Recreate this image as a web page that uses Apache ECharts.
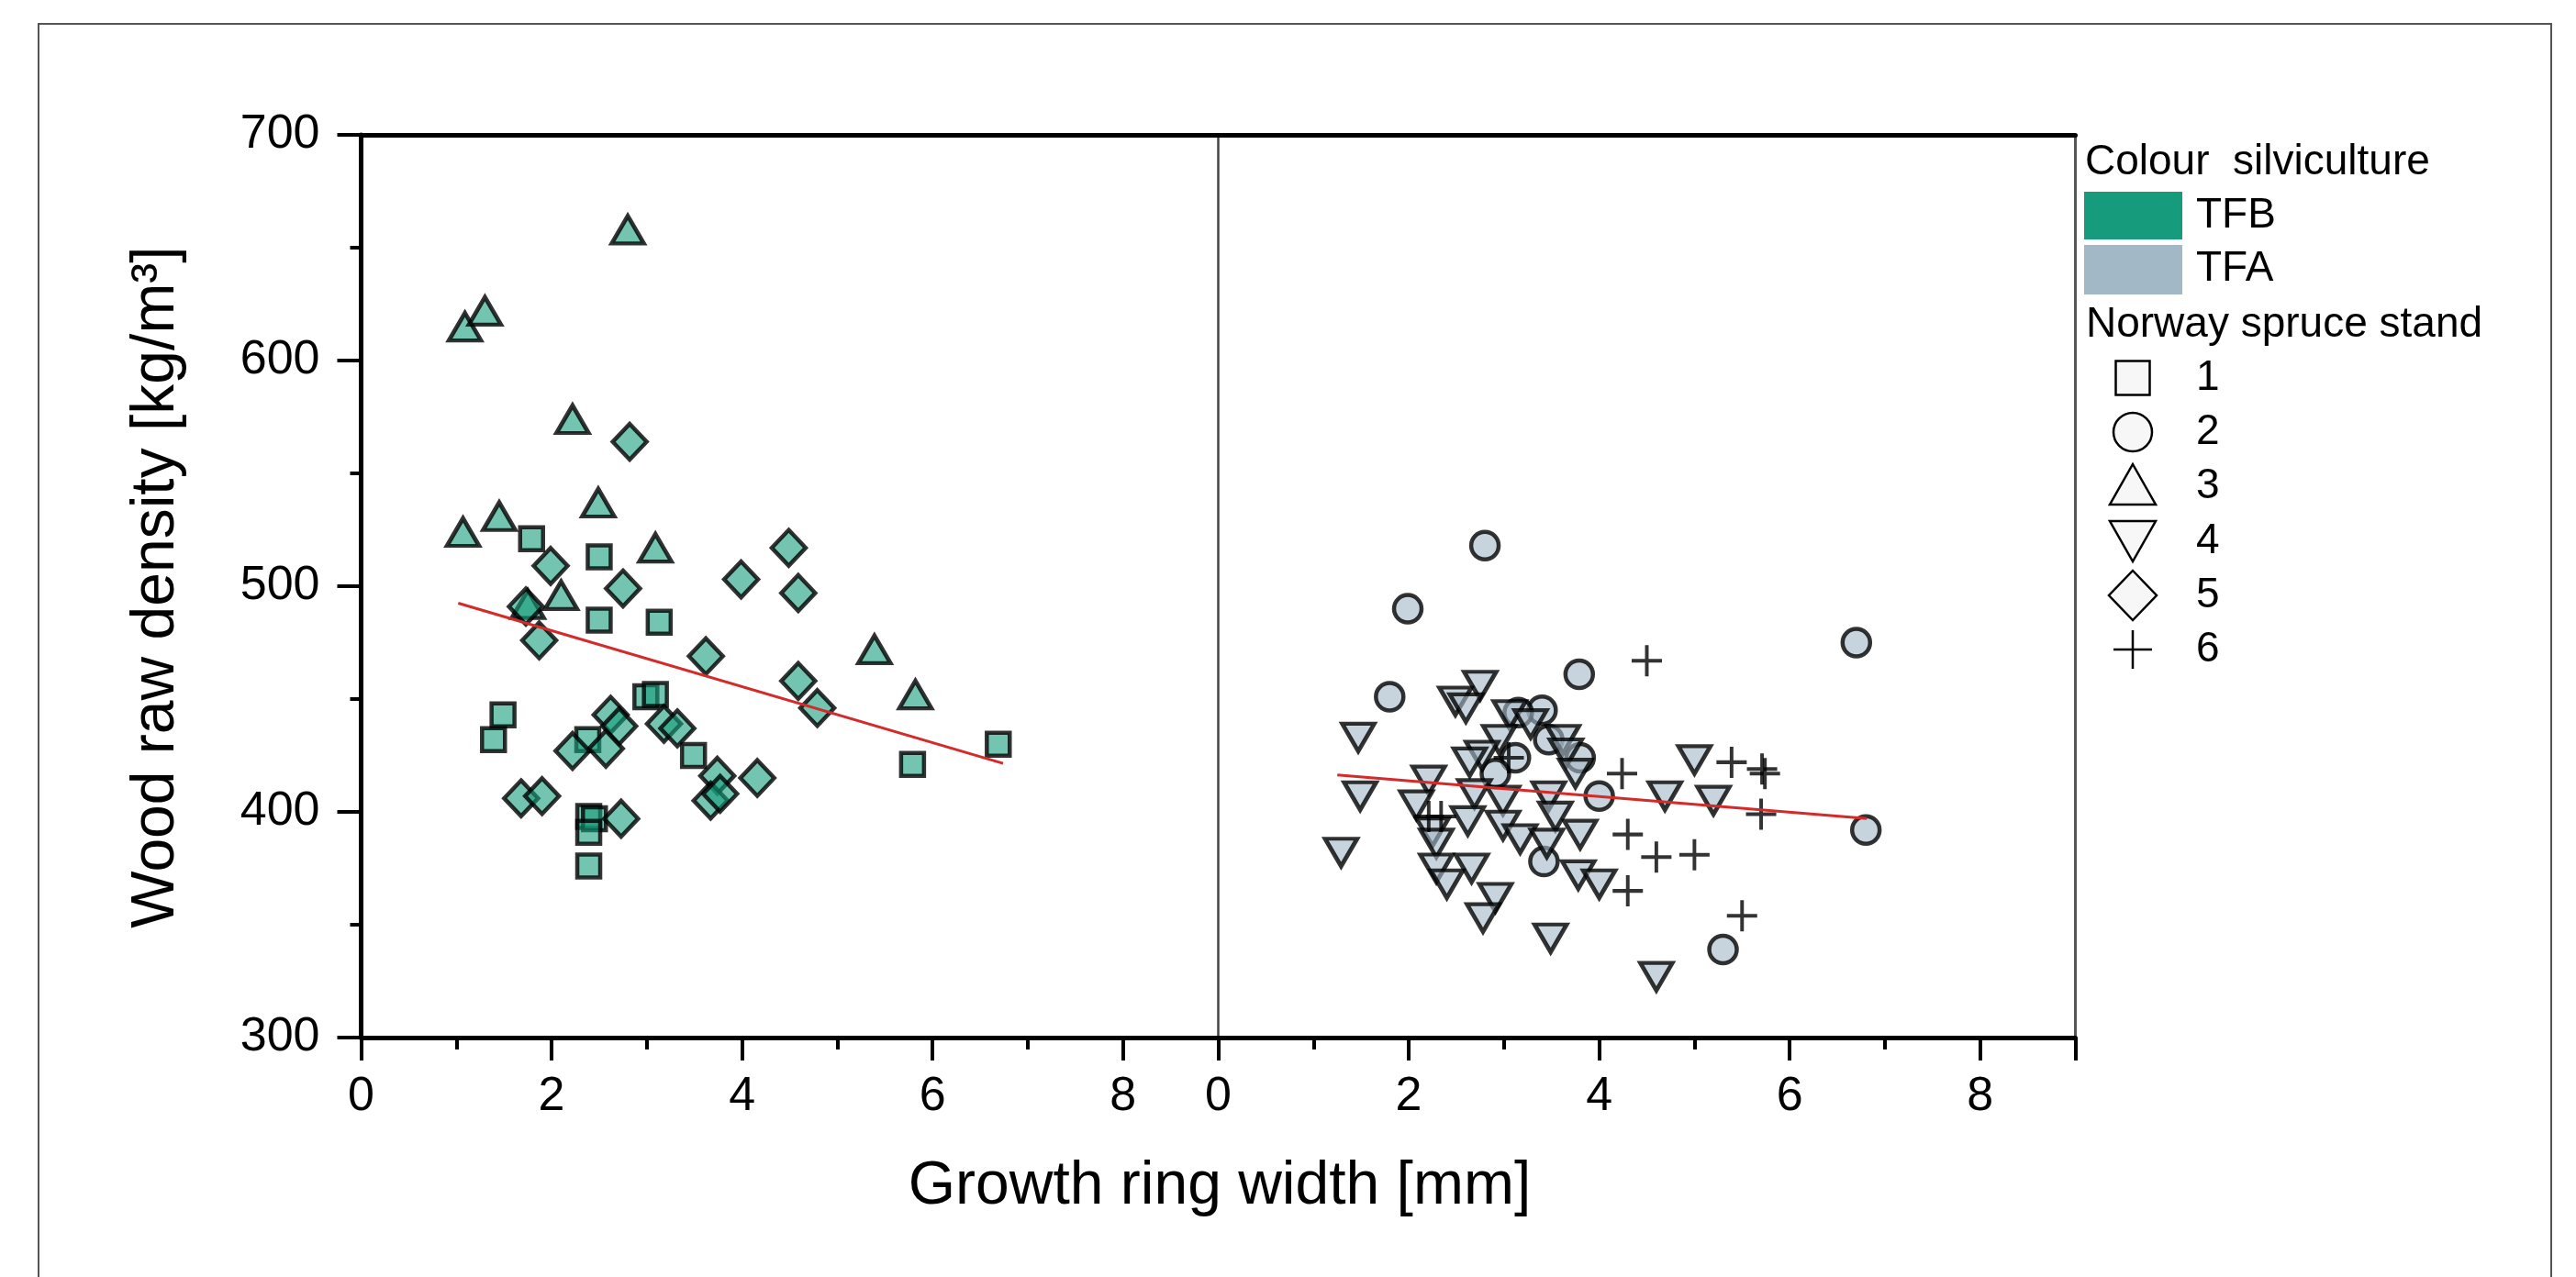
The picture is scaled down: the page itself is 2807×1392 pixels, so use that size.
<!DOCTYPE html>
<html>
<head>
<meta charset="utf-8">
<title>Wood raw density vs growth ring width</title>
<script src="https://cdn.jsdelivr.net/npm/echarts@6.0.0/dist/echarts.min.js"></script>
<style>
  html, body { margin: 0; padding: 0; background: #fff; }
  #chart { width: 2807px; height: 1392px; }
</style>
</head>
<body>
<div id="chart"></div>
<script>
// growth ring width [mm], wood raw density [kg/m3]
// TFB silviculture (left panel)
const stand1TFB = [
  [1.79, 521], [2.50, 513], [2.50, 485], [3.13, 484], [2.99, 451], [3.09, 452],
  [1.49, 443], [1.39, 432], [2.38, 432], [3.49, 425], [6.69, 430], [5.79, 421],
  [2.39, 398], [2.45, 397], [2.39, 391], [2.39, 376]
]
const stand3TFB = [
  [2.80, 658], [1.09, 615], [1.30, 622], [2.22, 574], [2.49, 537], [1.07, 524],
  [1.45, 531], [3.09, 517], [2.10, 496], [1.75, 492], [5.39, 472], [5.82, 452]
]
const stand5TFB = [
  [2.82, 564], [4.49, 517], [1.99, 509], [2.75, 499], [3.99, 503], [4.59, 497],
  [1.73, 491], [1.87, 476], [3.62, 469], [4.59, 458], [4.79, 446], [2.62, 443],
  [2.71, 438], [2.57, 428], [2.22, 427], [3.18, 439], [3.32, 437], [3.74, 416],
  [3.67, 405], [3.77, 408], [4.16, 415], [1.68, 406], [1.90, 407], [2.73, 397]
]
// TFA silviculture (right panel)
const stand2TFA = [
  [2.80, 518], [1.99, 490], [1.80, 451], [3.79, 461], [3.40, 445], [3.15, 444],
  [3.47, 432], [3.80, 424], [3.12, 424], [2.91, 417], [4.00, 407], [3.42, 378],
  [5.30, 339], [6.70, 475], [6.80, 392]
]
const stand4TFA = [
  [2.75, 456], [2.49, 449], [2.60, 446], [1.47, 433], [3.06, 443], [3.28, 439],
  [3.62, 432], [2.95, 432], [2.77, 425], [3.65, 426], [2.64, 422], [2.21, 414],
  [3.75, 417], [1.49, 407], [2.69, 408], [2.99, 405], [3.47, 407], [2.08, 403],
  [4.69, 407], [5.20, 405], [5.00, 423], [2.62, 396], [2.99, 394], [3.54, 398],
  [3.80, 390], [2.25, 391], [3.17, 388], [3.45, 386], [2.29, 386], [1.29, 382],
  [2.29, 375], [2.66, 375], [2.40, 368], [3.78, 372], [4.00, 368], [2.91, 362],
  [2.78, 353], [3.49, 344], [4.60, 327]
]
const stand6TFA = [
  [4.50, 467], [4.24, 417], [5.39, 422], [5.71, 419], [5.74, 417], [5.70, 399],
  [4.30, 390], [4.60, 380], [5.00, 381], [4.30, 365], [5.50, 354], [2.21, 398],
  [2.34, 398], [3.05, 424]
]
// linear fits
const fitTFB = [[1.02, 492.5], [6.74, 421.5]]
const fitTFA = [[1.25, 416.4], [6.81, 397.1]]

const xTicks = [0, 2, 4, 6, 8]
const xMax = 9
const yTicks = [300, 400, 500, 600, 700]
const silvicultureLabels = ['TFB', 'TFA']
const standLabels = ['1', '2', '3', '4', '5', '6']

const FONT = 'Liberation Sans, Arial, Helvetica, sans-serif'
const TFB_COLOR = '#169c7c'
const TFA_COLOR = '#a3b8c6'
const TFB_FILL = 'rgba(22,156,124,0.75)'
const TFA_FILL = 'rgba(163,184,198,0.75)'
const CROSS = 'path://M0,10 L20,10 M10,0 L10,20'

const chart = echarts.init(document.getElementById('chart'), null, { renderer: 'canvas' })

const mainX = (gridIndex) => ({
  type: 'value', gridIndex, position: 'bottom',
  min: xTicks[0], max: xMax, interval: xTicks[1] - xTicks[0],
  axisLine: { show: true, onZero: false, lineStyle: { color: '#000', width: 5 } },
  axisTick: { show: true, length: 25, lineStyle: { color: '#000', width: 4 } },
  axisLabel: {
    show: true, margin: 39, fontSize: 52, color: '#000', fontFamily: FONT,
    formatter: (v) => (xTicks.indexOf(v) >= 0 ? String(v) : '')
  },
  splitLine: { show: false }
})
const minorX = (gridIndex) => ({
  type: 'value', gridIndex, position: 'bottom',
  min: xTicks[0], max: xMax, interval: 1,
  axisLine: { show: false, onZero: false },
  axisTick: { show: true, length: 13, lineStyle: { color: '#000', width: 4 } },
  axisLabel: { show: false },
  splitLine: { show: false }
})
const topX = (gridIndex) => ({
  type: 'value', gridIndex, position: 'top',
  min: xTicks[0], max: xMax,
  axisLine: { show: true, onZero: false, lineStyle: { color: '#000', width: 5 } },
  axisTick: { show: false },
  axisLabel: { show: false },
  splitLine: { show: false }
})
const yScale = {
  type: 'value',
  min: yTicks[0], max: yTicks[yTicks.length - 1], interval: yTicks[1] - yTicks[0],
  splitLine: { show: false }
}

const tfbItem = { color: TFB_FILL, borderColor: '#000', borderWidth: 4.5 }
const tfaItem = { color: TFA_FILL, borderColor: '#000', borderWidth: 4.5 }

const legendText = (text, x, y) => ({
  type: 'text', x, y, silent: true,
  style: {
    text, fill: '#000', font: '46px ' + FONT,
    textAlign: 'left', align: 'left', textVerticalAlign: 'middle', verticalAlign: 'middle'
  }
})
const symStyle = { fill: '#f7f7f7', stroke: '#000', lineWidth: 2.5 }
const symX = 2324
const standY = [412, 471, 530, 590, 649, 708]

chart.setOption({
  animation: false,
  backgroundColor: '#fff',
  grid: [
    { left: 393.5, top: 147, width: 934, height: 984, containLabel: false },
    { left: 1327.5, top: 147, width: 934, height: 984, containLabel: false }
  ],
  xAxis: [mainX(0), minorX(0), topX(0), mainX(1), minorX(1), topX(1)],
  yAxis: [
    Object.assign({}, yScale, {
      gridIndex: 0, position: 'left',
      axisLine: { show: true, onZero: false, lineStyle: { color: '#000', width: 5 } },
      axisTick: { show: true, length: 26, lineStyle: { color: '#000', width: 4 } },
      minorTick: { show: true, splitNumber: 2, length: 12, lineStyle: { color: '#000', width: 4 } },
      axisLabel: { show: true, margin: 45, fontSize: 52, color: '#000', fontFamily: FONT }
    }),
    Object.assign({}, yScale, {
      gridIndex: 1, position: 'left',
      axisLine: { show: true, onZero: false, lineStyle: { color: '#444', width: 2.5 } },
      axisTick: { show: false }, axisLabel: { show: false }
    }),
    Object.assign({}, yScale, {
      gridIndex: 1, position: 'right',
      axisLine: { show: true, onZero: false, lineStyle: { color: '#555', width: 3 } },
      axisTick: { show: false }, axisLabel: { show: false }
    })
  ],
  series: [
    { name: 'TFB 1', type: 'scatter', xAxisIndex: 0, yAxisIndex: 0, data: stand1TFB,
      symbol: 'rect', symbolSize: 25, itemStyle: tfbItem },
    { name: 'TFB 3', type: 'scatter', xAxisIndex: 0, yAxisIndex: 0, data: stand3TFB,
      symbol: 'triangle', symbolSize: [35, 30], itemStyle: tfbItem },
    { name: 'TFB 5', type: 'scatter', xAxisIndex: 0, yAxisIndex: 0, data: stand5TFB,
      symbol: 'diamond', symbolSize: [37, 39], itemStyle: tfbItem },
    { name: 'TFA 2', type: 'scatter', xAxisIndex: 3, yAxisIndex: 1, data: stand2TFA,
      symbol: 'circle', symbolSize: 30, itemStyle: tfaItem },
    { name: 'TFA 4', type: 'scatter', xAxisIndex: 3, yAxisIndex: 1, data: stand4TFA,
      symbol: 'triangle', symbolRotate: 180, symbolSize: [35, 30], itemStyle: tfaItem },
    { name: 'TFA 6', type: 'scatter', xAxisIndex: 3, yAxisIndex: 1, data: stand6TFA,
      symbol: CROSS, symbolSize: [33, 34],
      itemStyle: { color: 'rgba(0,0,0,0)', borderColor: '#000', borderWidth: 4 } },
    { name: 'fit TFB', type: 'line', xAxisIndex: 0, yAxisIndex: 0, data: fitTFB, z: 5,
      symbol: 'none', lineStyle: { color: '#d42a2a', width: 3 } },
    { name: 'fit TFA', type: 'line', xAxisIndex: 3, yAxisIndex: 1, data: fitTFA, z: 5,
      symbol: 'none', lineStyle: { color: '#d42a2a', width: 3 } }
  ],
  graphic: [
    // outer frame
    { type: 'rect', silent: true, shape: { x: 42, y: 26, width: 2738, height: 1420 },
      style: { fill: 'none', stroke: '#555', lineWidth: 2 } },
    // axis titles
    { type: 'text', x: 171, y: 640, rotation: Math.PI / 2, silent: true,
      style: { text: 'Wood raw density [kg/m³]', fill: '#000', font: '66px ' + FONT,
        textAlign: 'center', align: 'center', textVerticalAlign: 'middle', verticalAlign: 'middle' } },
    { type: 'text', x: 1329, y: 1294, silent: true,
      style: { text: 'Growth ring width [mm]', fill: '#000', font: '66px ' + FONT,
        textAlign: 'center', align: 'center', textVerticalAlign: 'middle', verticalAlign: 'middle' } },
    // legend: colour = silviculture
    legendText('Colour  silviculture', 2272, 177),
    { type: 'rect', silent: true, shape: { x: 2271, y: 209, width: 107, height: 52 },
      style: { fill: TFB_COLOR } },
    legendText(silvicultureLabels[0], 2393, 235),
    { type: 'rect', silent: true, shape: { x: 2271, y: 267, width: 107, height: 54 },
      style: { fill: TFA_COLOR } },
    legendText(silvicultureLabels[1], 2393, 293),
    // legend: symbol = stand
    legendText('Norway spruce stand', 2273, 354),
    { type: 'rect', silent: true, shape: { x: symX - 18.5, y: standY[0] - 18.5, width: 37, height: 37 },
      style: symStyle },
    { type: 'circle', silent: true, shape: { cx: symX, cy: standY[1], r: 21 }, style: symStyle },
    { type: 'polygon', silent: true,
      shape: { points: [[symX, standY[2] - 24], [symX + 25, standY[2] + 20], [symX - 25, standY[2] + 20]] },
      style: symStyle },
    { type: 'polygon', silent: true,
      shape: { points: [[symX - 25, standY[3] - 22], [symX + 25, standY[3] - 22], [symX, standY[3] + 22]] },
      style: symStyle },
    { type: 'polygon', silent: true,
      shape: { points: [[symX, standY[4] - 27], [symX + 26, standY[4]], [symX, standY[4] + 27], [symX - 26, standY[4]]] },
      style: symStyle },
    { type: 'line', silent: true, shape: { x1: symX - 21, y1: standY[5], x2: symX + 21, y2: standY[5] },
      style: { stroke: '#000', lineWidth: 2.5 } },
    { type: 'line', silent: true, shape: { x1: symX, y1: standY[5] - 21, x2: symX, y2: standY[5] + 21 },
      style: { stroke: '#000', lineWidth: 2.5 } }
  ].concat(standLabels.map((s, i) => legendText(s, 2393, standY[i])))
})
</script>
</body>
</html>
